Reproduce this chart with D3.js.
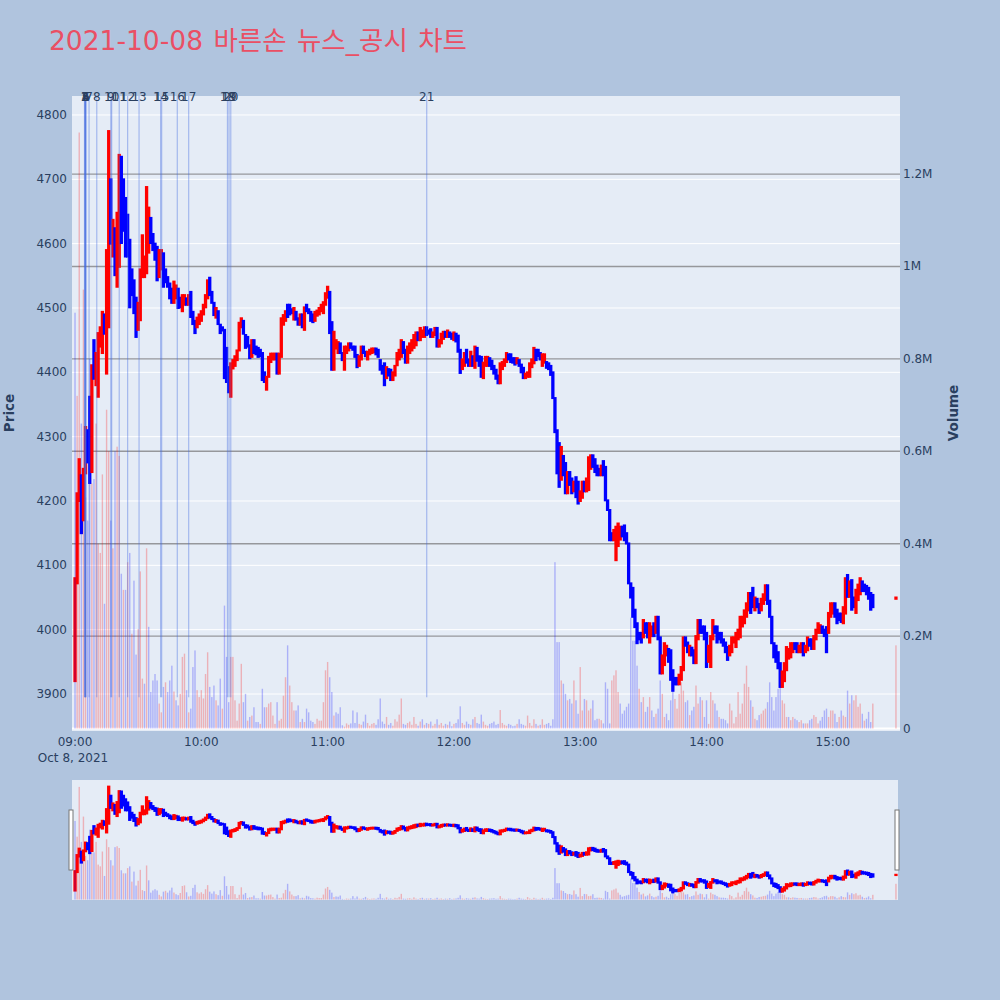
<!DOCTYPE html>
<html>
<head>
<meta charset="utf-8">
<script src="https://cdn.jsdelivr.net/npm/d3@7"></script>
<style>
  body { margin: 0; background: #b0c4de; }
  text { font-family: "DejaVu Sans", "Noto Sans CJK KR", sans-serif; }
</style>
</head>
<body>
<div id="chart"></div>
<script>
const TITLE = "2021-10-08 바른손 뉴스_공시 차트";
const tradeDate = "2021-10-08";
const sessionStart = "09:00:00";

// one candle per minute from 09:00 (prices in KRW)
const opens = [
  3920,4072,4200,4240,4170,4243,4310,4362,4245,4450,
  4380,4362,4440,4430,4490,4398,4470,4700,4580,4624,
  4533,4564,4735,4700,4671,4645,4606,4560,4543,4516,
  4466,4481,4548,4548,4554,4586,4640,4615,4600,4595,
  4548,4560,4585,4560,4548,4538,4530,4508,4515,4530,
  4516,4495,4505,4515,4505,4525,4494,4480,4470,4475,
  4480,4490,4501,4515,4547,4525,4508,4485,4495,4474,
  4470,4466,4438,4408,4362,4406,4410,4419,4434,4470,
  4480,4458,4455,4442,4424,4450,4440,4438,4435,4430,
  4400,4373,4393,4416,4420,4420,4429,4398,4424,4474,
  4480,4505,4505,4498,4482,4494,4484,4474,4490,4466,
  4505,4498,4494,4490,4480,4488,4490,4495,4492,4505,
  4516,4525,4478,4404,4437,4430,4445,4430,4404,4430,
  4434,4445,4440,4440,4427,4410,4420,4440,4432,4420,
  4428,4430,4431,4437,4435,4419,4410,4414,4391,4405,
  4404,4388,4395,4411,4420,4424,4447,4435,4415,4430,
  4434,4438,4442,4462,4450,4455,4455,4470,4465,4467,
  4455,4458,4469,4440,4445,4452,4463,4455,4462,4460,
  4450,4460,4457,4435,4405,4410,4435,4420,4410,4425,
  4407,4438,4425,4424,4391,4410,4410,4422,4418,4410,
  4404,4395,4383,4405,4410,4416,4428,4428,4422,4422,
  4414,4419,4412,4407,4391,4393,4393,4408,4414,4435,
  4435,4430,4410,4415,4416,4414,4410,4400,4360,4310,
  4290,4233,4270,4259,4212,4245,4235,4215,4237,4230,
  4200,4205,4230,4215,4217,4250,4271,4265,4255,4250,
  4240,4262,4253,4201,4186,4150,4139,4108,4130,4140,
  4160,4162,4150,4134,4072,4065,4031,4010,3995,3995,
  3988,4010,4010,3980,3990,4010,3995,4020,3988,3932,
  3945,3960,3970,3968,3937,3925,3925,3915,3922,3937,
  3988,3980,3960,3972,3968,3948,3985,4015,4005,4005,
  3995,3950,3942,3985,4005,4005,3995,3995,3985,3980,
  3973,3960,3965,3980,3973,3985,3988,4005,4010,4020,
  4030,4057,4065,4030,4048,4040,4030,4040,4046,4069,
  4045,4020,3979,3975,3965,3948,3911,3920,3937,3955,
  3957,3965,3979,3979,3965,3965,3979,3965,3968,3985,
  3985,3970,3985,3995,3995,4005,4000,4004,3995,4020,
  4025,4041,4031,4025,4025,4010,4025,4085,4051,4077,
  4050,4026,4046,4055,4075,4070,4068,4065,4057,4054
];
const closes = [
  4080,4212,4265,4150,4250,4315,4260,4228,4411,4390,
  4430,4461,4470,4494,4460,4590,4775,4600,4637,4551,
  4648,4738,4601,4620,4580,4580,4501,4520,4492,4455,
  4508,4560,4613,4580,4688,4656,4601,4590,4575,4543,
  4590,4590,4533,4540,4533,4515,4508,4541,4535,4500,
  4501,4520,4520,4505,4520,4486,4475,4461,4485,4490,
  4495,4505,4520,4543,4520,4508,4489,4500,4475,4461,
  4465,4391,4385,4369,4414,4419,4425,4434,4477,4484,
  4460,4438,4440,4422,4450,4430,4428,4424,4425,4388,
  4385,4393,4424,4429,4429,4429,4398,4429,4484,4489,
  4495,4486,4490,4492,4500,4482,4474,4490,4470,4501,
  4495,4492,4480,4478,4494,4496,4500,4505,4509,4523,
  4533,4461,4404,4463,4450,4447,4430,4419,4440,4440,
  4445,4438,4435,4424,4408,4425,4440,4430,4425,4432,
  4435,4437,4437,4428,4424,4404,4398,4380,4408,4395,
  4388,4400,4410,4430,4435,4450,4430,4415,4440,4445,
  4450,4458,4462,4450,4469,4465,4470,4458,4460,4455,
  4462,4469,4440,4450,4460,4463,4455,4465,4455,4452,
  4462,4448,4432,4399,4420,4430,4415,4410,4432,4410,
  4440,4418,4410,4393,4415,4424,4424,4410,4405,4398,
  4390,4383,4414,4416,4420,4430,4420,4416,4415,4412,
  4422,4410,4400,4391,4398,4400,4414,4420,4438,4419,
  4425,4420,4428,4428,4407,4405,4396,4360,4307,4243,
  4222,4284,4240,4212,4245,4225,4212,4230,4206,4196,
  4215,4230,4215,4235,4268,4271,4253,4245,4240,4240,
  4255,4240,4201,4186,4139,4139,4155,4160,4165,4160,
  4145,4139,4134,4072,4050,4020,4004,3979,3985,3980,
  4015,3995,3988,4010,4005,3990,4020,3985,3932,3960,
  3979,3975,3950,3922,3905,3915,3915,3930,3942,3988,
  3975,3965,3975,3960,3948,3990,4015,3995,3995,3985,
  3942,3975,3990,4015,3995,3980,3985,3980,3975,3965,
  3953,3975,3988,3988,3995,4000,4020,4020,4030,4041,
  4057,4026,4035,4050,4035,4026,4048,4055,4069,4040,
  4020,3979,3957,3950,3940,3911,3935,3948,3973,3970,
  3979,3979,3970,3965,3975,3979,3960,3975,3988,3975,
  3970,3990,4000,4010,4007,3995,3990,3965,4026,4041,
  4041,4020,4010,4015,4012,4035,4080,4051,4075,4031,
  4035,4062,4070,4080,4060,4060,4055,4048,4031,4035
];
// traded volume per minute, millions of shares
const volumesM = [
  0.90,0.72,1.29,0.66,0.95,0.50,0.45,0.80,0.53,0.54,
  0.66,0.40,0.38,0.55,0.27,0.69,0.60,0.45,0.39,0.60,
  0.61,0.59,0.335,0.30,0.30,0.36,0.38,0.205,0.32,0.16,
  0.215,0.34,0.108,0.097,0.39,0.22,0.079,0.104,0.118,0.104,
  0.054,0.035,0.09,0.10,0.079,0.104,0.136,0.08,0.061,0.05,
  0.075,0.155,0.162,0.083,0.035,0.043,0.133,0.169,0.083,0.068,
  0.083,0.065,0.118,0.165,0.09,0.068,0.093,0.061,0.05,0.108,
  0.043,0.266,0.155,0.057,0.155,0.155,0.061,0.017,0.054,0.14,
  0.057,0.075,0.017,0.025,0.028,0.046,0.014,0.014,0.01,0.086,
  0.046,0.046,0.054,0.057,0.028,0.01,0.057,0.017,0.021,0.071,
  0.111,0.18,0.093,0.057,0.039,0.039,0.05,0.014,0.021,0.014,
  0.043,0.035,0.017,0.014,0.01,0.021,0.017,0.017,0.057,0.126,
  0.144,0.111,0.079,0.028,0.035,0.032,0.046,0.007,0.004,0.011,
  0.008,0.011,0.039,0.012,0.035,0.010,0.008,0.015,0.030,0.012,
  0.006,0.010,0.012,0.008,0.020,0.065,0.015,0.010,0.025,0.008,
  0.012,0.006,0.020,0.015,0.030,0.065,0.010,0.008,0.012,0.015,
  0.008,0.025,0.010,0.006,0.015,0.020,0.008,0.012,0.010,0.015,
  0.006,0.010,0.020,0.008,0.012,0.006,0.010,0.008,0.015,0.005,
  0.010,0.012,0.020,0.048,0.012,0.008,0.015,0.010,0.008,0.020,
  0.025,0.012,0.010,0.030,0.015,0.008,0.006,0.010,0.012,0.015,
  0.008,0.010,0.040,0.012,0.008,0.006,0.010,0.008,0.005,0.006,
  0.010,0.020,0.010,0.008,0.006,0.028,0.012,0.006,0.020,0.010,
  0.006,0.008,0.020,0.008,0.010,0.012,0.006,0.020,0.36,0.187,
  0.187,0.104,0.097,0.075,0.061,0.064,0.054,0.104,0.061,0.032,
  0.133,0.039,0.064,0.061,0.039,0.043,0.061,0.018,0.021,0.021,
  0.018,0.011,0.10,0.086,0.011,0.104,0.115,0.126,0.079,0.054,
  0.032,0.039,0.047,0.054,0.24,0.19,0.19,0.136,0.086,0.057,
  0.068,0.036,0.047,0.068,0.039,0.025,0.032,0.043,0.104,0.075,
  0.025,0.032,0.018,0.061,0.09,0.064,0.043,0.075,0.10,0.082,
  0.057,0.061,0.029,0.039,0.047,0.093,0.054,0.068,0.061,0.025,
  0.061,0.01,0.079,0.061,0.054,0.039,0.025,0.021,0.021,0.018,
  0.011,0.054,0.039,0.011,0.025,0.079,0.032,0.054,0.097,0.136,
  0.09,0.061,0.047,0.021,0.018,0.029,0.032,0.039,0.043,0.057,
  0.10,0.068,0.039,0.068,0.086,0.10,0.061,0.054,0.025,0.025,
  0.018,0.025,0.021,0.018,0.014,0.018,0.011,0.011,0.011,0.018,
  0.021,0.029,0.025,0.011,0.017,0.025,0.039,0.043,0.025,0.039,
  0.039,0.032,0.014,0.025,0.039,0.028,0.025,0.082,0.054,0.072,
  0.061,0.072,0.047,0.054,0.032,0.017,0.021,0.036,0.014,0.054
];
// closing auction print
const auctionTime = "15:30:00";
const auctionOpen = 4048;
const auctionClose = 4050;
const auctionVolumeM = 0.18;

// news / disclosure times, numbered 1..21
const newsTimes = [
  "09:04:30","09:04:40","09:04:50","09:05:00","09:05:00","09:05:15","09:06:40",
  "09:10:20","09:17:00","09:17:25","09:21:00","09:25:00","09:30:25","09:40:40",
  "09:41:10","09:48:35","09:54:00","10:12:25","10:13:10","10:14:00","11:47:05"
];
const newsLabels = newsTimes.map((d, i) => String(i + 1));

const priceTicks = [3900, 4000, 4100, 4200, 4300, 4400, 4500, 4600, 4700, 4800];
const volumeTicks = [0, 0.2, 0.4, 0.6, 0.8, 1, 1.2];
const timeTicks = ["09:00", "10:00", "11:00", "12:00", "13:00", "14:00", "15:00"];

const INK = "#2a3f5f";
const UP = "#ff0000";
const DOWN = "#0000ff";
const PLOT_BG = "#e5ecf6";

const parseTime = d3.timeParse("%Y-%m-%d %H:%M:%S");
const at = t => parseTime(tradeDate + " " + t);

const firstMinute = at(sessionStart);
const candles = opens.map((o, i) => ({
    time: d3.timeMinute.offset(firstMinute, i),
    open: o,
    close: closes[i],
    volume: volumesM[i]
}));
candles.push({ time: at(auctionTime), open: auctionOpen, close: auctionClose, volume: auctionVolumeM });
candles.forEach((c, i) => {
    c.up = c.close > c.open;
    c.volUp = i > 0 && c.close >= candles[i - 1].close;
});

const plot = { left: 72, right: 900, top: 96, bottom: 731 };
const slider = { left: 72, right: 898, top: 780, bottom: 900 };

const x = d3.scaleTime()
    .domain([at("08:58:34"), at("15:31:55")])
    .range([plot.left, plot.right]);
const yPrice = d3.scaleLinear().domain([3842.5, 4829.5]).range([plot.bottom, plot.top]);
const yVol = d3.scaleLinear().domain([-0.0054, 1.369]).range([plot.bottom, plot.top]);
const ySPrice = yPrice.copy().range([slider.bottom, slider.top]);
const ySVol = yVol.copy().range([slider.bottom, slider.top]);

const svg = d3.select("#chart").append("svg")
    .attr("width", 1000)
    .attr("height", 1000);

svg.append("rect").attr("width", 1000).attr("height", 1000).attr("fill", "#b0c4de");

const defs = svg.append("defs");
defs.append("clipPath").attr("id", "clip-main")
  .append("rect")
    .attr("x", plot.left).attr("y", plot.top)
    .attr("width", plot.right - plot.left).attr("height", plot.bottom - plot.top);
defs.append("clipPath").attr("id", "clip-slider")
  .append("rect")
    .attr("x", slider.left).attr("y", slider.top)
    .attr("width", slider.right - slider.left).attr("height", slider.bottom - slider.top);

// title
svg.append("text")
    .attr("x", 49)
    .attr("y", 50)
    .attr("font-size", 26.5)
    .attr("word-spacing", 2)
    .attr("fill", "#ea4f64")
    .text(TITLE);

// plot background
svg.append("rect")
    .attr("x", plot.left).attr("y", plot.top)
    .attr("width", plot.right - plot.left).attr("height", plot.bottom - plot.top)
    .attr("fill", PLOT_BG);

// price grid (white)
svg.append("g").selectAll("line")
    .data(priceTicks)
    .enter().append("line")
        .attr("x1", plot.left).attr("x2", plot.right)
        .attr("y1", d => yPrice(d)).attr("y2", d => yPrice(d))
        .attr("stroke", "#fff").attr("stroke-width", 1);

// volume grid (grey)
svg.append("g").selectAll("line")
    .data(volumeTicks.filter(d => d > 0))
    .enter().append("line")
        .attr("x1", plot.left).attr("x2", plot.right)
        .attr("y1", d => yVol(d)).attr("y2", d => yVol(d))
        .attr("stroke", "#96979b").attr("stroke-width", 1.4);

svg.append("line")
    .attr("x1", plot.left).attr("x2", plot.right)
    .attr("y1", yVol(0)).attr("y2", yVol(0))
    .attr("stroke", "#fff").attr("stroke-width", 2);

function drawCandles(layer, yScale) {
    layer.selectAll("rect.candle")
        .data(candles)
        .enter().append("rect")
            .attr("class", "candle")
            .attr("x", d => x(d.time) - 0.65)
            .attr("width", 1.3)
            .attr("y", d => yScale(Math.max(d.open, d.close)))
            .attr("height", d => Math.max(0.3, Math.abs(yScale(d.open) - yScale(d.close))))
            .attr("fill", d => d.up ? UP : DOWN)
            .attr("stroke", d => d.up ? UP : DOWN)
            .attr("stroke-width", 2);
}

function drawVolume(layer, yScale) {
    layer.selectAll("rect.vol")
        .data(candles)
        .enter().append("rect")
            .attr("class", "vol")
            .attr("x", d => x(d.time) - 0.7)
            .attr("width", 1.4)
            .attr("y", d => yScale(d.volume))
            .attr("height", d => yScale(0) - yScale(d.volume))
            .attr("fill", d => d.volUp ? "rgba(255,0,0,0.25)" : "rgba(0,0,255,0.25)");
}

const main = svg.append("g").attr("clip-path", "url(#clip-main)");
drawCandles(main.append("g"), yPrice);
drawVolume(main.append("g"), yVol);

// news markers
const lowPrice = d3.min(candles, d => Math.min(d.open, d.close)) - 10;
main.append("g").selectAll("line")
    .data(newsTimes)
    .enter().append("line")
        .attr("x1", d => x(at(d))).attr("x2", d => x(at(d)))
        .attr("y1", yPrice(lowPrice)).attr("y2", plot.top)
        .attr("stroke", "rgba(65,105,225,0.4)")
        .attr("stroke-width", 1.2);

svg.append("g").selectAll("text")
    .data(newsTimes)
    .enter().append("text")
        .attr("x", d => x(at(d)))
        .attr("y", 101)
        .attr("text-anchor", "middle")
        .attr("font-size", 12)
        .attr("fill", INK)
        .text((d, i) => newsLabels[i]);

// left price axis
svg.append("g").selectAll("text")
    .data(priceTicks)
    .enter().append("text")
        .attr("x", 67)
        .attr("y", d => yPrice(d) + 4)
        .attr("text-anchor", "end")
        .attr("font-size", 12)
        .attr("fill", INK)
        .text(d => d);

// right volume axis
svg.append("g").selectAll("text")
    .data(volumeTicks)
    .enter().append("text")
        .attr("x", 903)
        .attr("y", d => yVol(d) + 4)
        .attr("font-size", 12)
        .attr("fill", INK)
        .text(d => d === 0 ? "0" : d + "M");

// time axis
svg.append("g").selectAll("text")
    .data(timeTicks)
    .enter().append("text")
        .attr("x", d => x(at(d + ":00")))
        .attr("y", 746)
        .attr("text-anchor", "middle")
        .attr("font-size", 12)
        .attr("fill", INK)
        .text(d => d);

svg.append("text")
    .attr("x", x(at("09:00:00")) - 2)
    .attr("y", 762)
    .attr("text-anchor", "middle")
    .attr("font-size", 12)
    .attr("fill", INK)
    .text(d3.timeFormat("%b %-d, %Y")(firstMinute));

// axis titles
svg.append("text")
    .attr("transform", `translate(14, 413) rotate(-90)`)
    .attr("text-anchor", "middle")
    .attr("font-size", 13.5)
    .attr("font-weight", "bold")
    .attr("fill", INK)
    .text("Price");

svg.append("text")
    .attr("transform", `translate(958, 413) rotate(-90)`)
    .attr("text-anchor", "middle")
    .attr("font-size", 13.5)
    .attr("font-weight", "bold")
    .attr("fill", INK)
    .text("Volume");

// range slider
svg.append("rect")
    .attr("x", slider.left).attr("y", slider.top)
    .attr("width", slider.right - slider.left).attr("height", slider.bottom - slider.top)
    .attr("fill", PLOT_BG);

const mini = svg.append("g").attr("clip-path", "url(#clip-slider)");
drawCandles(mini.append("g"), ySPrice);
drawVolume(mini.append("g"), ySVol);

[slider.left - 3, slider.right - 3].forEach(hx => {
    svg.append("rect")
        .attr("x", hx).attr("y", 810)
        .attr("width", 4).attr("height", 60)
        .attr("fill", "#fff")
        .attr("stroke", "#777")
        .attr("stroke-width", 1);
});
</script>
</body>
</html>
